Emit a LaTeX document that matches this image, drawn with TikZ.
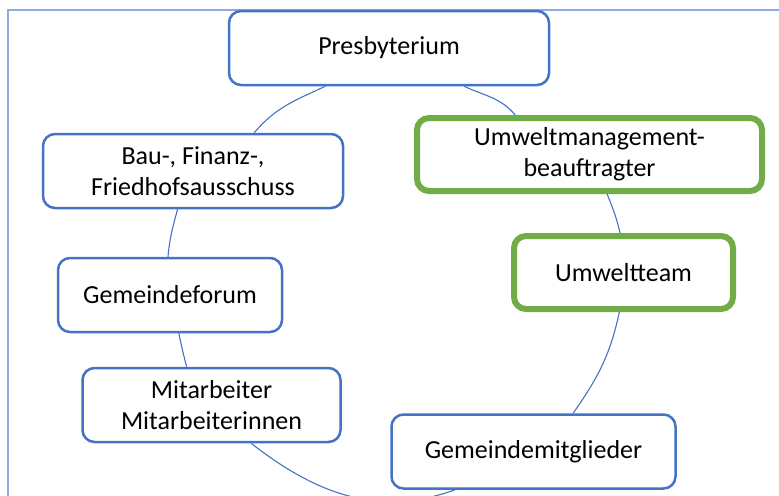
\documentclass[tikz,border=0pt]{standalone}
\usepackage{fontspec}
\setmainfont{Carlito}
\definecolor{officeblue}{HTML}{4472C4}
\definecolor{officegreen}{HTML}{70AD47}
\definecolor{framelight}{HTML}{8FAADC}
\begin{document}
\begin{tikzpicture}[x=0.5pt, y=0.5pt,
    orgbox/.style={draw=officeblue, line width=1.25pt, fill=white, rounded corners=6pt,
      align=center, inner sep=0pt, minimum height=37pt, font=\fontsize{13}{15.5}\selectfont},
    envbox/.style={orgbox, draw=officegreen, line width=3pt, minimum height=36.5pt},
    link/.style={officeblue, line width=0.55pt}]
  \useasboundingbox (0,0) rectangle (779,495);
  \clip (0,0) rectangle (779,495);
  \draw[framelight, line width=0.8pt] (8,-10) |- (800,485);
  \node[orgbox, minimum width=160pt] (pres) at (389,447) {Presbyterium};
  \node[orgbox, minimum width=150pt] (bau) at (193,324) {Bau-, Finanz-,\\Friedhofsausschuss};
  \node[orgbox, minimum width=112pt] (forum) at (170,200) {Gemeindeforum};
  \node[orgbox, minimum width=129pt] (mit) at (211.5,90) {Mitarbeiter\\Mitarbeiterinnen};
  \node[orgbox, minimum width=142pt] (glied) at (533.5,43.5) {Gemeindemitglieder};
  \node[envbox, minimum width=172.5pt] (umb) at (589.5,340.5) {Umweltmanagement-\\beauftragter};
  \node[envbox, minimum width=109.5pt] (team) at (623.5,222.5) {Umweltteam};
  \draw[link] (pres.211) to[out=205, in=50] (bau.32);
  \draw[link] (bau.248) to[out=255, in=85] (forum.93);
  \draw[link] (forum.283) to[out=282, in=105] (mit.123);
  \draw[link] (mit.316) to[out=-38, in=200] (glied.206);
  \draw[link] (glied.44) to[out=55, in=258] (team.264);
  \draw[link] (team.95) to[out=103, in=292] (umb.294);
  \draw[link] (umb.152) to[out=130, in=335] (pres.333);
\end{tikzpicture}
\end{document}
